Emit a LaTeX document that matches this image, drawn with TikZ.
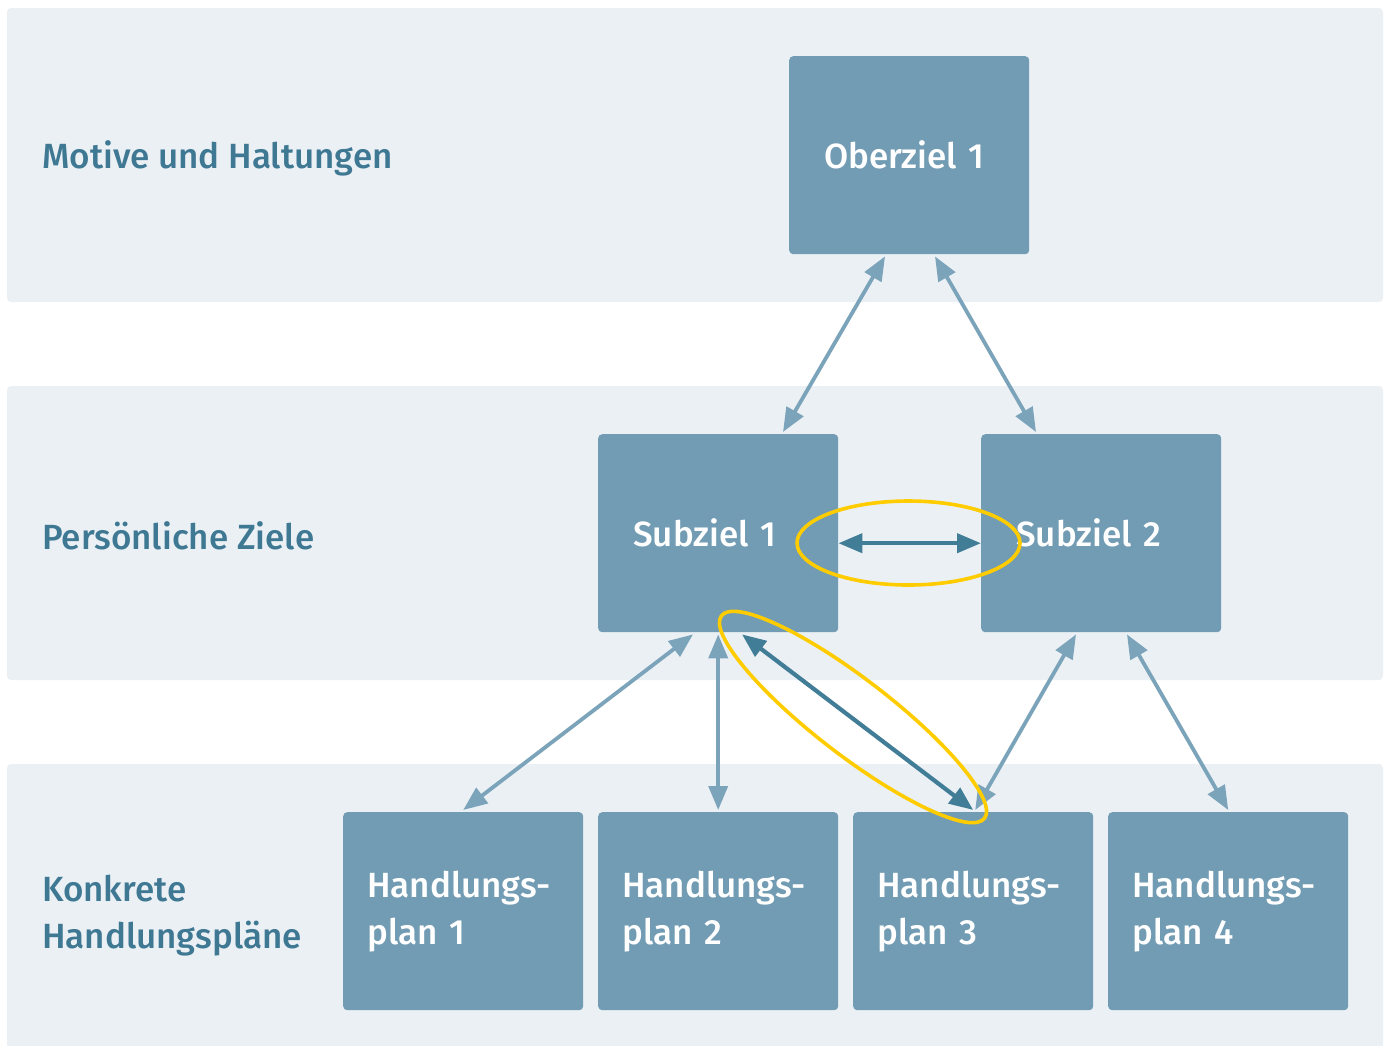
\documentclass[tikz,border=0pt]{standalone}
\usepackage{fontspec}
\setmainfont{Fira Sans Medium}
\usepackage{tikz}
\usetikzlibrary{arrows.meta,calc}
\definecolor{bandbg}{HTML}{EBF0F5}
\definecolor{boxfill}{HTML}{729CB3}
\definecolor{linklight}{HTML}{7BA4BA}
\definecolor{linkdark}{HTML}{427D97}
\definecolor{labeltext}{HTML}{3E7893}
\definecolor{ringyellow}{HTML}{FFCC00}

\begin{document}
\begin{tikzpicture}[x=1pt,y=-1pt,
    band/.style={fill=bandbg,rounded corners=4pt},
    goal/.style={fill=boxfill,rounded corners=4pt,text=white,anchor=north west,
      minimum width=240pt,minimum height=198pt,text width=170pt,inner xsep=35pt,
      align=left,font=\fontsize{35}{47}\selectfont},
    plan/.style={goal,text width=192pt,inner xsep=24pt},
    level/.style={text=labeltext,anchor=west,align=left,inner sep=0pt,
      font=\fontsize{35}{47}\selectfont},
    link/.style={draw=linklight,line width=3.8pt,{Triangle[length=24pt,width=19pt]}-{Triangle[length=24pt,width=19pt]}},
    darklink/.style={link,draw=linkdark,line width=4.2pt},
    ring/.style={draw=ringyellow,line width=3.6pt}]
    \useasboundingbox (0,0) rectangle (1387,1045);
    % levels
    \fill[band] (7,8) rectangle (1383,302);
    \fill[band] (7,386) rectangle (1383,680);
    \fill[band] (7,764) rectangle (1383,1049);
    \node[level] (motive) at (42,158) {Motive und Haltungen};
    \node[level] (ziele) at (42,536) {Persönliche Ziele};
    \node[level] (konkret) at (42,916) {Konkrete\\Handlungspläne};
    % goals
    \node[goal] (ober) at (789,56) {Oberziel 1};
    \node[goal] (sub1) at (598,434) {Subziel 1};
    \node[goal] (sub2) at (981,434) {Subziel 2};
    \node[plan] (hp1) at (343,812) {Handlungs-\\plan 1};
    \node[plan] (hp2) at (598,812) {Handlungs-\\plan 2};
    \node[plan] (hp3) at (853,812) {Handlungs-\\plan 3};
    \node[plan] (hp4) at (1108,812) {Handlungs-\\plan 4};
    % links
    \draw[link] ($(ober.south west)+(96,2)$) -- ($(sub1.north west)+(185,-2)$);
    \draw[link] ($(ober.south west)+(146,2)$) -- ($(sub2.north west)+(55,-2)$);
    \draw[link] ($(sub1.south west)+(95,2)$) -- ($(hp1.north)+(0,-2)$);
    \draw[link] ($(sub1.south)+(0,2)$) -- ($(hp2.north)+(0,-2)$);
    \draw[link] ($(sub2.south west)+(95,2)$) -- ($(hp3.north)+(2,-2)$);
    \draw[link] ($(sub2.south west)+(146,2)$) -- ($(hp4.north)+(0,-2)$);
    \draw[darklink] ($(sub1.east)+(0,10)$) -- ($(sub2.west)+(0,10)$);
    \draw[darklink] ($(sub1.south west)+(144,2)$) -- ($(hp3.north)+(0,-2)$);
    % highlights
    \draw[ring] (908.5,543) ellipse [x radius=111.5,y radius=42];
    \draw[ring,rotate around={-37.6:(853,717)}] (853,717) ellipse [x radius=166,y radius=38];
\end{tikzpicture}
\end{document}
